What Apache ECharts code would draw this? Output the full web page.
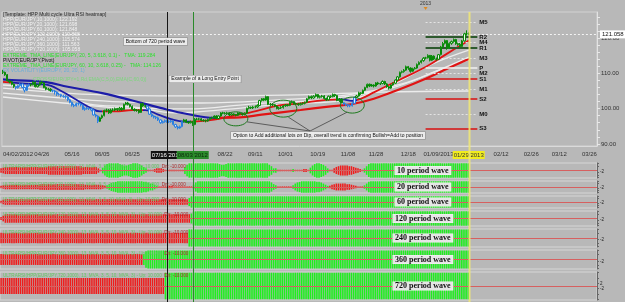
<!DOCTYPE html>
<html>
<head>
<meta charset="utf-8">
<script src="https://cdn.jsdelivr.net/npm/echarts@6/dist/echarts.min.js"></script>
<style>
html,body{margin:0;padding:0;background:#b8b8b8;}
#main{width:625px;height:302px;}
</style>
</head>
<body>
<div id="main"></div>
<script>
// EUR/JPY daily bars from 04/02/2012, [open, close, low, high]
const ohlc = [
  [110.6,110.3,109.8,111.0],[110.3,109.6,109.3,110.5],[109.6,107.9,107.7,109.8],[107.9,107.6,107.2,108.3],[107.6,106.9,106.6,107.8],
  [106.9,106.3,105.9,107.1],[106.3,105.9,105.4,106.5],[105.9,106.5,105.7,106.8],[106.5,107.0,106.2,107.4],[107.0,106.0,105.8,107.2],
  [106.0,105.2,104.6,106.2],[105.2,106.6,105.0,106.8],[106.6,106.7,106.2,107.1],[106.7,106.8,106.3,107.2],[106.8,107.5,106.6,107.8],
  [107.5,106.2,106.0,107.7],[106.2,106.7,106.0,107.0],[106.7,107.5,106.5,107.7],[107.5,107.3,107.0,107.9],[107.3,106.0,105.8,107.5],
  [106.0,105.5,105.2,106.3],[105.5,105.5,105.1,105.9],[105.5,105.1,104.8,105.8],[105.1,105.0,104.6,105.4],[105.0,104.7,104.0,105.3],
  [104.7,104.1,103.6,104.9],[104.1,104.0,103.7,104.5],[104.0,103.6,103.2,104.2],[103.6,103.5,103.1,103.9],[103.5,103.3,102.8,103.8],
  [103.3,102.5,102.1,103.5],[102.5,101.8,101.5,102.8],[101.8,101.0,100.6,102.0],[101.0,100.8,100.4,101.4],[100.8,101.4,100.6,101.7],
  [101.4,101.3,100.9,101.8],[101.3,101.0,100.6,101.5],[101.0,99.8,99.6,101.2],[99.8,100.0,99.4,100.4],[100.0,100.1,99.7,100.5],
  [100.1,100.0,99.6,100.4],[100.0,99.6,99.2,100.3],[99.6,98.2,98.0,99.8],[98.2,97.9,97.5,98.5],[97.9,96.4,95.9,98.1],
  [96.4,97.4,96.2,97.7],[97.4,98.0,97.1,98.3],[98.0,99.5,97.8,99.7],[99.5,99.6,99.0,100.0],[99.6,98.8,98.5,99.9],
  [98.8,99.6,98.6,100.0],[99.6,99.6,99.2,100.1],[99.6,100.0,99.3,100.3],[100.0,99.7,99.3,100.2],[99.7,100.1,99.4,100.5],
  [100.1,99.7,99.4,100.4],[99.7,101.2,99.6,101.4],[101.2,101.6,101.0,101.9],[101.6,101.2,100.9,101.9],[101.2,100.6,100.3,101.4],
  [100.6,99.8,99.6,100.9],[99.8,99.5,99.2,100.1],[99.5,99.5,99.1,99.9],[99.5,98.9,98.6,99.8],[98.9,101.4,98.8,101.6],
  [101.4,100.8,100.5,101.7],[100.8,100.7,100.3,101.1],[100.7,99.9,99.6,101.0],[99.9,98.4,98.2,100.1],[98.4,97.9,97.6,98.7],
  [97.9,97.6,97.2,98.1],[97.6,97.4,97.0,97.9],[97.4,96.8,96.5,97.7],[96.8,96.0,95.7,97.0],[96.0,96.3,95.8,96.6],
  [96.3,96.6,96.0,96.9],[96.6,96.3,96.0,96.9],[96.3,96.3,95.9,96.7],[96.3,96.5,96.0,96.8],[96.5,95.5,95.2,96.7],
  [95.5,94.8,94.5,95.7],[94.8,94.5,94.1,95.1],[94.5,94.9,94.3,95.2],[94.9,96.3,94.7,96.5],[96.3,96.8,96.1,97.1],
  [96.8,96.1,95.9,97.0],[96.1,96.0,95.7,96.4],[96.0,96.3,95.8,96.6],[96.3,95.5,95.1,96.5],[95.5,97.0,95.3,97.3],
  [97.0,97.0,96.7,97.4],[97.0,97.1,96.7,97.4],[97.1,96.7,96.4,97.3],[96.7,96.6,96.3,97.0],[96.6,96.5,96.1,96.9],
  [96.5,96.9,96.3,97.2],[96.9,97.3,96.7,97.5],[97.3,97.4,97.0,97.7],[97.4,97.9,97.2,98.1],[97.9,97.2,97.0,98.1],
  [97.2,97.9,97.0,98.1],[97.9,98.8,97.7,99.0],[98.8,98.7,98.4,99.1],[98.7,98.6,98.3,99.0],[98.6,98.8,98.3,99.1],
  [98.8,98.2,97.9,99.0],[98.2,98.5,98.0,98.8],[98.5,98.3,98.0,98.7],[98.3,98.1,97.8,98.5],[98.1,98.8,97.9,99.0],
  [98.8,98.6,98.3,99.0],[98.6,98.3,98.0,98.8],[98.3,98.7,98.1,98.9],[98.7,100.1,98.5,100.3],[100.1,100.4,99.8,100.8],
  [100.4,100.2,99.9,100.6],[100.2,100.5,99.9,100.8],[100.5,100.5,100.1,100.9],[100.5,100.9,100.2,101.2],[100.9,102.3,100.7,102.5],
  [102.3,102.8,102.0,103.0],[102.8,102.4,102.1,103.0],[102.4,103.4,102.2,103.7],[103.4,101.2,101.0,103.5],[101.2,101.2,100.8,101.6],
  [101.2,101.1,100.7,101.5],[101.1,100.7,100.4,101.3],[100.7,100.0,99.8,100.9],[100.0,100.2,99.7,100.5],[100.2,100.3,99.9,100.7],
  [100.3,100.8,100.0,101.0],[100.8,101.0,100.5,101.3],[101.0,100.9,100.6,101.3],[100.9,101.8,100.7,102.0],[101.8,102.0,101.5,102.3],
  [102.0,101.4,101.1,102.1],[101.4,101.3,101.0,101.7],[101.3,101.1,100.8,101.6],[101.1,101.4,100.9,101.7],[101.4,101.5,101.1,101.8],
  [101.5,101.8,101.2,102.0],[101.8,102.8,101.6,103.0],[102.8,103.4,102.6,103.7],[103.4,103.0,102.7,103.7],[103.0,103.5,102.8,103.8],
  [103.5,104.0,103.2,104.3],[104.0,103.2,102.9,104.1],[103.2,103.4,102.9,103.7],[103.4,103.6,103.1,103.9],[103.6,102.9,102.6,103.8],
  [102.9,102.5,102.2,103.1],[102.5,103.5,102.3,103.7],[103.5,103.4,103.0,103.8],[103.4,104.0,103.2,104.3],[104.0,103.7,103.3,104.2],
  [103.7,102.3,102.1,103.9],[102.3,102.7,101.9,103.0],[102.7,101.7,101.5,102.9],[101.7,101.3,101.0,101.9],[101.3,101.1,100.7,101.5],
  [101.1,100.8,100.4,101.3],[100.8,100.8,100.4,101.2],[100.8,101.5,100.6,101.8],[101.5,103.2,101.3,103.4],[103.2,103.6,102.9,103.9],
  [103.6,104.5,103.4,104.8],[104.5,104.3,103.9,104.7],[104.3,105.2,104.1,105.4],[105.2,106.0,105.0,106.2],[106.0,106.9,105.8,107.1],
  [106.9,106.4,106.1,107.1],[106.4,106.7,106.2,107.0],[106.7,106.4,106.0,106.9],[106.4,107.3,106.2,107.5],[107.3,107.0,106.7,107.6],
  [107.0,107.1,106.7,107.4],[107.1,107.7,106.9,108.0],[107.7,107.0,106.7,107.9],[107.0,106.2,105.9,107.2],[106.2,105.8,105.4,106.4],
  [105.8,106.7,105.6,106.9],[106.7,107.2,106.5,107.4],[107.2,108.1,107.0,108.3],[108.1,109.0,107.9,109.2],[109.0,110.3,108.8,110.5],
  [110.3,110.5,110.0,110.8],[110.5,110.9,110.2,111.2],[110.9,111.9,110.7,112.2],[111.9,111.5,111.0,112.1],[111.5,110.6,110.2,111.7],
  [110.6,111.3,110.4,111.6],[111.3,111.5,111.1,111.8],[111.5,112.5,111.3,112.8],[112.5,113.1,112.3,113.4],[113.1,113.6,112.8,113.9],
  [113.6,114.3,113.3,114.6],[114.3,114.4,114.0,114.7],[114.4,115.1,114.2,115.4],[115.1,113.7,113.4,115.2],[113.7,114.9,113.5,115.2],
  [114.9,114.1,113.8,115.1],[114.1,114.0,113.6,114.5],[114.0,115.3,113.8,115.5],[115.3,117.5,115.1,117.8],[117.5,118.5,117.2,118.9],
  [118.5,119.3,118.2,119.6],[119.3,117.1,116.7,119.4],[117.1,118.5,116.9,118.8],[118.5,119.0,118.1,119.3],[119.0,119.6,118.7,119.9],
  [119.6,118.4,118.1,119.8],[118.4,118.2,117.8,118.7],[118.2,117.6,117.3,118.6],[117.6,119.2,117.4,119.5],[119.2,121.2,119.0,121.5],
  [121.2,121.2,120.7,122.2],[121.2,121.058,120.8,121.6]
];
const slotCount = 276;           // daily slots incl. future space
const blueRuns = [[6,12],[23,44],[67,83],[158,163]];   // bars painted in the bearish (blue) colour
const lastPrice = 121.058;

const dateTicks = [[0,'04/02/2012'],[18,'04/26'],[32,'05/16'],[46,'06/05'],[60,'06/25'],[76,'07/16/2012'],
  [88,'08/03/2012'],[103,'08/22'],[117,'09/11'],[131,'10/01'],[146,'10/19'],[160,'11/08'],[173,'11/28'],
  [188,'12/18'],[202,'01/09/2013'],[216,'01/29/2013'],[231,'02/12'],[245,'02/26'],[258,'03/12'],[272,'03/26']];
const eventDays = [76, 88, 216];
const yearStart = [196, '2013'];

const tmaFast = [[0,107.6],[6,107.3],[13,107.0],[20,106.8],[27,105.0],[34,102.5],[40,100.4],[45,99.2],[52,99.2],
  [60,99.6],[66,99.6],[72,98.3],[78,97.0],[84,96.3],[90,96.4],[98,96.9],[106,97.9],[114,98.8],[120,99.7],
  [128,100.9],[138,101.5],[150,102.5],[157,102.6],[162,102.2],[166,102.8],[172,104.6],[184,108.2],[196,111.8],
  [206,115.6],[216,119.3]];
const tmaFastDown = [[4,46],[65,87],[155,164]];
const tmaSlow = [[0,108.3],[4,108.1],[20,107.5],[30,106.2],[46,104.4],[60,102.3],[73,100.2],[86,98.4],[98,97.4],
  [110,97.5],[120,98.3],[138,99.6],[150,100.5],[162,101.3],[172,102.8],[184,105.5],[196,108.5],[206,111.3],[216,114.1]];
const tmaSlowDown = [[0,100]];
const tmaReadings = ['119.284', '114.126'];

const hppSlowLine = [[0,105.8],[46,103.9],[92,103.6],[138,103.9],[175,104.7],[216,105.0]];
const hppMidLine = [[0,104.4],[28,103.0],[55,101.9],[92,101.6],[128,102.5],[160,103.9],[185,107.0],[205,111.5],[216,113.8]];
const hppMid2Line = [[0,103.3],[28,101.6],[55,100.2],[85,99.9],[115,101.3],[150,102.7],[180,105.8],[200,110.4],[216,114.6]];
const hppFastLine = [[0,106.7],[20,105.3],[40,101.3],[60,100.5],[80,98.8],[100,99.6],[130,101.3],[160,102.5],[180,106.7],[200,112.9],[216,116.6]];

const pivotNames = ['M5','R2','M4','R1','M3','P','M2','S1','M1','S2','M0','S3'];
const pivotValues = [124.5,120.3,118.7,117.2,114.3,111.5,110.0,108.4,105.6,102.7,98.5,94.3];
const pivotSpan = [196, 220];

const hppPeriods = [10,20,60,120,240,360,720];
const hppValues = ['122.192','121.698','121.848','119.868','115.574','111.563','105.058'];

// wave heatmaps, run-length: [amplitude, bars]; negative = bearish (red)
const wave10 = [[-3,1],[-4,1],[-5,20],[-6,16],[-5,7],[-3,1],[-1,1],
  [4,1],[7,1],[9,1],[10,5],[9,1],[8,1],[7,2],[8,1],[9,1],[10,3],[9,1],[7,1],[5,1],[3,1],
  [-1,3],[-2,1],[-3,3],[-2,1],[-1,9],
  [5,1],[8,1],[10,14],[9,1],[8,2],[9,1],[10,19],[8,1],[6,1],[3,2],
  [-1,7],[2,1],[-1,4],[-2,2],[-1,1],
  [4,1],[7,1],[9,1],[10,2],[9,1],[8,1],[6,1],[3,1],
  [-1,2],[-3,1],[-5,1],[-6,1],[-7,4],[-6,2],[-5,1],[-4,1],[-3,1],[-2,1],[-1,1],
  [3,1],[6,1],[9,1],[10,46]];
const wave20 = [[-2,1],[-3,1],[-4,16],[-5,21],[-4,8],[-3,1],[-2,1],
  [3,1],[5,1],[7,1],[8,1],[9,1],[10,12],[9,2],[8,1],[6,2],[4,1],[2,1],
  [-1,4],[-2,3],[-1,9],
  [4,1],[8,1],[10,34],[8,1],[5,1],[3,1],
  [-1,7],
  [3,1],[6,1],[8,1],[9,1],[10,7],[9,2],[8,1],[6,1],[4,1],[2,1],
  [-2,1],[-4,1],[-5,1],[-6,5],[-5,2],[-4,1],[-3,1],[-2,1],[-1,3],
  [3,1],[6,1],[9,1],[10,46]];
const wave60 = [[-2,1],[-4,1],[-5,85],[7,1],[10,129]];
const wave120 = [[-2,1],[-4,1],[-6,86],[7,1],[10,128]];
const wave240 = [[-6,87],[10,130]];
const wave360 = [[-6,66],[6,1],[9,1],[10,149]];
const wave720 = [[-6,76],[10,141]];
const waveNames = ['10 period wave','20 period wave','60 period wave','120 period wave','240 period wave','360 period wave','720 period wave'];

const dipCircles = [[107.5,97.1],[130.4,100.0],[162,101.0]];

// ---- chart ----
const chart = echarts.init(document.getElementById('main'));
const FONT = 'Liberation Sans';
const RED = '#ee1c1c', GREEN = '#1ef01e';
const panelTops = [163,181,196,211,229,250,272];
const panelHeights = [15,12,12,15,18,19,28];
const waves = [wave10,wave20,wave60,wave120,wave240,wave360,wave720];

function expand(runs) {
  const out = [];
  runs.forEach(([a, n]) => { for (let i = 0; i < n; i++) out.push(a); });
  return out;
}
function inRuns(i, runs) { return runs.some(([a, b]) => i >= a && i <= b); }

const cats = [];
for (let i = 0; i < slotCount; i++) cats.push(String(i));
const tickMap = new Map(dateTicks);
const eventRich = ['k', 'g', 'y'];

const grids = [{left: 0, right: 28, top: 12, height: 134, show: true, borderColor: '#d2d2d2', borderWidth: 1}];
const xAxes = [{
  type: 'category', gridIndex: 0, data: cats, boundaryGap: true,
  axisLine: {lineStyle: {color: '#dadada'}},
  axisTick: {interval: i => i % 3 === 0, length: 3, lineStyle: {color: '#666'}},
  axisLabel: {
    interval: i => tickMap.has(i), fontSize: 6, fontFamily: FONT, color: '#333', margin: 5,
    alignMinLabel: 'left',
    formatter: (v, i) => {
      const t = tickMap.get(i) || '';
      const e = eventDays.indexOf(i);
      return e >= 0 ? '{' + eventRich[e] + '|' + t + '}' : t;
    },
    rich: {
      k: {backgroundColor: '#111', color: '#fff', fontSize: 6, padding: [1, 1]},
      g: {backgroundColor: '#2c8a2c', color: '#0b2a0b', fontSize: 6, padding: [1, 1]},
      y: {backgroundColor: '#f0ec1e', color: '#333', fontSize: 6, padding: [1, 1]}
    }
  },
  splitLine: {show: false}
}];
const priceTicks = [];
for (let v = 90; v <= 126; v += 2) priceTicks.push(v);
const yAxes = [{
  type: 'value', gridIndex: 0, position: 'right', min: 89.4, max: 127.4,
  axisLine: {show: true, lineStyle: {color: '#e2e2e2'}},
  axisTick: {show: true, customValues: priceTicks, length: 3, lineStyle: {color: '#e8e8e8'}},
  axisLabel: {customValues: [90, 100, 110, 120], formatter: v => v.toFixed(2), fontSize: 6, fontFamily: FONT, color: '#333', margin: 4},
  splitLine: {show: false}
}];
panelTops.forEach((t, k) => {
  grids.push({left: 0, right: 28, top: t, height: panelHeights[k], show: true, borderColor: '#d6d6d6', borderWidth: 1});
  xAxes.push({type: 'category', gridIndex: k + 1, data: cats, boundaryGap: true, show: false});
  yAxes.push({
    type: 'value', gridIndex: k + 1, position: 'right', min: -10.5, max: 10.5,
    axisLine: {show: true, lineStyle: {color: '#666'}},
    axisTick: {show: true, customValues: [-10, -6, -2, 2, 6, 10], length: 2, lineStyle: {color: '#666'}},
    axisLabel: {customValues: [2, -2], fontSize: 4.5, fontFamily: FONT, color: '#222', margin: 3},
    splitLine: {show: false}
  });
});

const series = [];
const visualMaps = [];
const whiteStyle = {color: '#ececec', width: 1.3};
[hppSlowLine, hppMidLine, hppMid2Line, hppFastLine].forEach(d => {
  series.push({type: 'line', xAxisIndex: 0, yAxisIndex: 0, data: d, smooth: 0.4, showSymbol: false, lineStyle: whiteStyle, z: 2, silent: true});
});
[[tmaSlow, tmaSlowDown, 2.2], [tmaFast, tmaFastDown, 1.8]].forEach(([d, down, w]) => {
  visualMaps.push({
    type: 'piecewise', show: false, dimension: 0, seriesIndex: series.length,
    pieces: down.map(([a, b]) => ({gte: a, lte: b, color: '#1c1ca8'})),
    outOfRange: {color: '#e01414'}
  });
  series.push({type: 'line', xAxisIndex: 0, yAxisIndex: 0, data: d, smooth: 0.4, showSymbol: false, lineStyle: {width: w}, z: 3, silent: true});
});

// pivot levels
series.push({
  type: 'line', xAxisIndex: 0, yAxisIndex: 0, data: [], z: 4, silent: true,
  markLine: {
    silent: true, symbol: ['none', 'none'], animation: false,
    data: pivotNames.map((n, i) => {
      const kind = n[0];
      const ls = kind === 'M' ? {color: '#e4e4e4', type: [2, 2], width: 1}
        : kind === 'R' ? {color: '#2e5a2e', type: 'solid', width: 2}
        : kind === 'S' ? {color: '#d81010', type: 'solid', width: 1.5}
        : {color: '#f2f2f2', type: 'solid', width: 1.5};
      return [
        {coord: [pivotSpan[0], pivotValues[i]], lineStyle: ls,
          label: {show: true, position: 'end', formatter: n, color: '#111', fontSize: 6, fontWeight: 'bold', fontFamily: FONT, distance: 2}},
        {coord: [pivotSpan[1], pivotValues[i]]}
      ];
    })
  }
});

const blueStyle = {color: '#dcecff', color0: '#3d9bff', borderColor: '#2a7fe0', borderColor0: '#2a7fe0'};
series.push({
  type: 'candlestick', xAxisIndex: 0, yAxisIndex: 0, z: 6, barWidth: '80%',
  data: ohlc.map((b, i) => inRuns(i, blueRuns) ? {value: b, itemStyle: blueStyle} : b),
  itemStyle: {color: '#f4f4f4', color0: '#088a08', borderColor: '#088a08', borderColor0: '#088a08', borderWidth: 1},
  markLine: {
    silent: true, symbol: ['none', 'none'], animation: false,
    data: [{yAxis: lastPrice, lineStyle: {color: '#f4f4f4', type: [2, 2], width: 1},
      label: {show: true, position: 'end', formatter: lastPrice.toFixed(3), backgroundColor: '#fff', color: '#111',
        fontSize: 6, fontFamily: FONT, padding: [1, 2], distance: 3}}]
  }
});

waves.forEach((runs, k) => {
  const vals = expand(runs);
  const g = k + 1;
  series.push({
    type: 'line', xAxisIndex: g, yAxisIndex: g, data: [], z: 1, silent: true,
    markLine: {silent: true, symbol: ['none', 'none'], animation: false, data: [{yAxis: 0}],
      lineStyle: {color: '#d66060', type: 'solid', width: 1}, label: {show: false}}
  });
  [1, -1].forEach(s => {
    series.push({
      type: 'bar', xAxisIndex: g, yAxisIndex: g, z: 2, silent: true, barWidth: '72%', barGap: '-100%',
      data: vals.map(a => ({value: s * Math.abs(a), itemStyle: {color: a < 0 ? RED : GREEN}}))
    });
  });
});

chart.setOption({
  backgroundColor: '#b8b8b8',
  animation: false,
  grid: grids,
  xAxis: xAxes,
  yAxis: yAxes,
  visualMap: visualMaps,
  series: series
});

// ---- annotations ----
const px = (g, x, y) => chart.convertToPixel({xAxisIndex: g, yAxisIndex: g}, [x, y]);
const graphic = [];
function txt(x, y, text, fill, extra) {
  graphic.push(Object.assign({type: 'text', x: x, y: y, z: 100, silent: true,
    style: Object.assign({text: text, fill: fill, fontSize: 5, fontFamily: FONT, verticalAlign: 'middle'}, extra || {})}));
}

// vertical event lines
const eventColors = ['#151515', '#2a8a2a', 'rgba(238,230,120,0.9)'];
eventDays.forEach((d, i) => {
  const x = Math.round(px(0, d, 100)[0]) + 0.5;
  graphic.push({type: 'line', z: 50, silent: true, shape: {x1: x, y1: 12, x2: x, y2: 302},
    style: {stroke: eventColors[i], lineWidth: i === 2 ? 2 : 1}});
});

// year marker
const yx = px(0, yearStart[0], 100)[0];
txt(yx, 4, yearStart[1], '#333', {align: 'center'});
graphic.push({type: 'polygon', z: 100, silent: true, shape: {points: [[yx - 2, 7], [yx + 2, 7], [yx, 10]]}, style: {fill: '#e08a20'}});

// indicator legend
txt(3, 15, '[Template: HPP Multi cycle Ultra RSI heatmap]', '#2a2a2a');
hppPeriods.forEach((p, i) => txt(3, 20 + i * 5, 'HPP(EUR/JPY,' + p + ',1000): ' + hppValues[i], '#f2f2f2'));
txt(3, 55.5, 'EXTREME_TMA_LINE(EUR/JPY, 20, 5, 3.618, 0.1) -   TMA: ' + tmaReadings[0], '#2ee02e');
txt(3, 61, 'PIVOT(EUR/JPY,Pivot)', '#111');
txt(3, 66, 'EXTREME_TMA_LINE(EUR/JPY, 60, 10, 3.618, 0.25) -   TMA: ' + tmaReadings[1], '#2ee02e');
txt(3, 71, 'FX VOLATILITY(EUR/JPY, 20, 20, 1)', '#6aaed8');
txt(33, 79.5, 'CROSS(EUR/JPY=1,Rd,EMA(C,5,0),EMA(C,60,0))', '#7cd67c');

// text boxes
const boxStyle = {backgroundColor: '#ebebeb', borderColor: '#8a8a8a', borderWidth: 0.6, padding: [1, 2], fill: '#111', align: 'center'};
txt(155.5, 41.5, 'Bottom of 720 period wave', '#111', boxStyle);
txt(205, 79, 'Example of a Long Entry Point', '#111', boxStyle);
txt(328, 135.5, 'Option to Add additional lots on Dip, overall trend is confirming Bullish=Add to position', '#111', boxStyle);

// dip ellipses and connectors
const radii = [[12, 7], [13.5, 8.5], [12, 8]];
const hub = [310, 131];
dipCircles.forEach((c, i) => {
  const p = px(0, c[0], c[1]);
  graphic.push({type: 'ellipse', z: 90, silent: true, shape: {cx: p[0], cy: p[1], rx: radii[i][0], ry: radii[i][1]},
    style: {fill: 'none', stroke: '#1d7a1d', lineWidth: 1}});
  const end = i === 0 ? [p[0] + radii[i][0] - 1, p[1] + 3] : i === 1 ? [p[0] + 5, p[1] + radii[i][1]] : [p[0] - 5, p[1] + radii[i][1] - 1];
  graphic.push({type: 'line', z: 90, silent: true, shape: {x1: hub[0], y1: hub[1], x2: end[0], y2: end[1]},
    style: {stroke: '#444', lineWidth: 0.8}});
});

// panel labels and headers
waves.forEach((w, k) => {
  const g = k + 1;
  const c = px(g, 195, 0);
  txt(c[0], c[1], waveNames[k], '#111', {align: 'center', fontSize: 8, fontWeight: 'bold', fontFamily: 'Liberation Serif',
    backgroundColor: '#e6e6e6', borderColor: '#f6f6f6', borderWidth: 0.6, padding: [0, 2]});
  graphic.push({type: 'text', z: 100, silent: true, x: 3, y: panelTops[k] + 3.5,
    style: {text: '{a|ULTRARSI(HPP(EUR/JPY,' + hppPeriods[k] + ',1000), 13, MVA, 3, 5, 10, MVA, 3) - Up: 10.000  }{b|Dn: -10.000}',
      verticalAlign: 'middle', fontSize: 4.6, fontFamily: FONT,
      rich: {a: {fill: '#63c963', fontSize: 4.6, fontFamily: FONT}, b: {fill: '#b02a2a', fontSize: 4.6, fontFamily: FONT}}}});
});

chart.setOption({graphic: graphic});
</script>
</body>
</html>
